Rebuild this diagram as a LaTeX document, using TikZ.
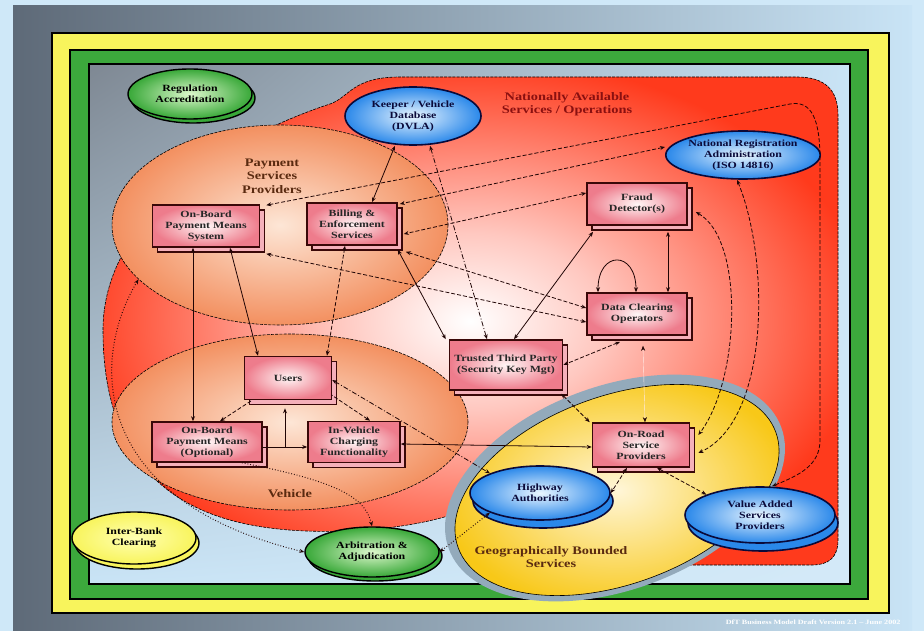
\documentclass[tikz,border=0pt]{standalone}
\usepackage{fontspec}
\setmainfont[FakeStretch=1.25]{Liberation Serif}
\usetikzlibrary{arrows.meta,shadows,shadings,shapes.geometric,positioning}

\definecolor{skyback}{HTML}{CFE8F8}
\definecolor{panelgray}{HTML}{5E6A78}
\definecolor{panellight}{HTML}{C9E4F6}
\definecolor{framegreen}{HTML}{3CA83C}
\definecolor{frameyellow}{HTML}{F8F45C}
\definecolor{blobred}{HTML}{FF3A1C}
\definecolor{blobpink}{HTML}{FFC8C0}
\definecolor{orangeout}{HTML}{F39060}
\definecolor{orangein}{HTML}{FDE6D6}
\definecolor{boxpink}{HTML}{EE7C8C}
\definecolor{boxedge}{HTML}{3A0808}
\definecolor{blueout}{HTML}{2A88EA}
\definecolor{bluein}{HTML}{EAF6FF}
\definecolor{navyedge}{HTML}{0A0A3A}
\definecolor{greenout}{HTML}{38A838}
\definecolor{greenin}{HTML}{DDF8CC}
\definecolor{geoyellow}{HTML}{F8C818}
\definecolor{geoin}{HTML}{FFF6D8}
\definecolor{ringblue}{HTML}{93AABB}
\definecolor{labelred}{HTML}{8A1010}
\definecolor{labelbrown}{HTML}{5A2A10}
\definecolor{linedark}{HTML}{200505}

\pgfdeclareradialshading{redblob}{\pgfpoint{0bp}{0bp}}{color(0bp)=(white); color(9bp)=(blobpink); color(27bp)=(blobred); color(50bp)=(blobred)}

\begin{document}
\begin{tikzpicture}[x=1pt,y=-1pt,
  font=\fontsize{9.5}{11.2}\selectfont\bfseries,
  >={Stealth[length=5pt,width=4pt]},
  box/.style={draw=boxedge, line width=1.6pt, inner color=white!85!pink, outer color=boxpink,
    align=center, inner sep=0pt, text=black!85,
    general shadow={fill=boxpink!60!white, draw=boxedge, line width=1.6pt, shadow xshift=5pt, shadow yshift=-5pt}},
  blueell/.style={ellipse, draw=navyedge, line width=1.6pt, inner color=bluein, outer color=blueout,
    align=center, inner sep=0pt, text=navyedge},
  greenell/.style={ellipse, draw=black, line width=1.4pt, inner color=greenin, outer color=greenout,
    align=center, inner sep=0pt,
    general shadow={fill=greenout, draw=black, line width=1.4pt, shadow xshift=3pt, shadow yshift=-4pt}},
  area/.style={ellipse, draw=black, line width=0.6pt, dash pattern=on 3pt off 1.2pt, inner sep=0pt},
  arealabel/.style={align=center, font=\fontsize{11.5}{13.5}\selectfont\bfseries},
  conn/.style={draw=linedark, line width=0.8pt, <->},
  dconn/.style={conn, dash pattern=on 4pt off 2pt},
  tconn/.style={conn, dotted, line width=1pt},
  dtconn/.style={conn, dash pattern=on 5pt off 2pt on 1pt off 2pt}
]
\useasboundingbox (0,0) rectangle (924,631);
% background and frames
\fill[skyback] (0,0) rectangle (924,631);
\shade[left color=panelgray, right color=panellight] (13,6) rectangle (912,631);
\draw[fill=frameyellow, line width=1.2pt] (52,33) rectangle (889,613);
\draw[fill=framegreen, line width=1.2pt] (70,50) rectangle (868,599);
\shade[draw=black, line width=1.4pt, upper left=panelgray!80!white, upper right=panellight,
  lower left=panellight, lower right=panellight!80!white] (89,64) rectangle (850,584);

% nationally available area
\path[draw=black, line width=0.6pt, dash pattern=on 3pt off 1.2pt, shading=redblob]
  (103,330) .. controls (103,220) and (220,140) .. (330,104)
  .. controls (350,97) and (352,77) .. (400,77) -- (797,77)
  .. controls (825,77) and (838,90) .. (838,115) -- (838,540)
  .. controls (838,558) and (828,565) .. (812,565) -- (560,565) -- (470,508)
  .. controls (420,530) and (330,536) .. (270,528)
  .. controls (160,514) and (103,450) .. cycle;
\node[arealabel, text=labelred] (natl) at (567,104) {Nationally Available\\Services / Operations};

% payment and vehicle areas
\node[area, inner color=orangein, outer color=orangeout, minimum width=336, minimum height=200] (psp) at (280,225) {};
\node[area, inner color=orangein, outer color=orangeout, minimum width=356, minimum height=176] (veh) at (290,422) {};
\node[arealabel, text=labelbrown] (psplab) at (272,176) {Payment\\Services\\Providers};
\node[arealabel, text=labelbrown] (vehlab) at (290,494) {Vehicle};

% geographically bounded area
\node[ellipse, fill=ringblue, rotate=20, minimum width=354, minimum height=204] (ring) at (615,488) {};
\node[ellipse, draw=black, line width=0.6pt, inner color=geoin, outer color=geoyellow, rotate=20,
  minimum width=338, minimum height=188] (geo) at (617,490) {};
\node[arealabel, text=labelbrown] (geolab) at (551,557) {Geographically Bounded\\Services};

% ellipses
\node[greenell, minimum width=124, minimum height=50] (reg) at (190,94) {Regulation\\Accreditation};
\node[blueell, minimum width=136, minimum height=58] (dvla) at (413,116) {Keeper / Vehicle\\Database\\(DVLA)};
\node[blueell, minimum width=140, minimum height=48] (nra) at (743,155) {National Registration\\Administration\\(ISO 14816)};
\node[blueell, minimum width=140, minimum height=54,
  general shadow={fill=blueout, draw=navyedge, line width=1.6pt, shadow xshift=3pt, shadow yshift=-8pt}] (hwy) at (540,493) {Highway\\Authorities};
\node[blueell, minimum width=150, minimum height=56,
  general shadow={fill=blueout, draw=navyedge, line width=1.6pt, shadow xshift=3pt, shadow yshift=-8pt}] (vas) at (760,515) {Value Added\\Services\\Providers};
\node[ellipse, draw=black, line width=1.4pt, inner color=white!70!yellow, outer color=frameyellow,
  align=center, inner sep=0pt, minimum width=124, minimum height=52,
  general shadow={fill=frameyellow, draw=black, line width=1.4pt, shadow xshift=3pt, shadow yshift=-5pt}] (ibc) at (134,538) {Inter-Bank\\Clearing};
\node[greenell, minimum width=134, minimum height=50] (arb) at (372,552) {Arbitration \&\\Adjudication};

% boxes
\node[box, minimum width=107, minimum height=42] (obpms) at (206,226) {On-Board\\Payment Means\\System};
\node[box, minimum width=90, minimum height=42] (bill) at (352,224) {Billing \&\\Enforcement\\Services};
\node[box, minimum width=100, minimum height=42] (fraud) at (637,204) {Fraud\\Detector(s)};
\node[box, minimum width=100, minimum height=42] (dco) at (637,314) {Data Clearing\\Operators};
\node[box, minimum width=113, minimum height=50] (ttp) at (506,365) {Trusted Third Party\\(Security Key Mgt)};
\node[box, minimum width=87, minimum height=43] (users) at (288,378) {Users};
\node[box, minimum width=110, minimum height=40] (obpmo) at (207,442) {On-Board\\Payment Means\\(Optional)};
\node[box, minimum width=92, minimum height=41] (ivcf) at (354,442) {In-Vehicle\\Charging\\Functionality};
\node[box, minimum width=97, minimum height=44] (orsp) at (641,445) {On-Road\\Service\\Providers};

% connectors
\draw[conn] ([xshift=-13pt]obpms.south) -- ([xshift=-14pt]obpmo.north);
\draw[conn] ([xshift=24pt]obpms.south) -- ([xshift=-30pt]users.north);
\draw[dconn] ([xshift=-7pt]bill.south) -- ([xshift=39pt]users.north);
\draw[conn] ([xshift=20pt]bill.north) -- ([xshift=-18pt]dvla.south);
\draw[dtconn] ([xshift=17pt]dvla.south) -- ([xshift=-19pt]ttp.north);
\draw[conn] ([yshift=-4pt]bill.south east) -- ([xshift=-3pt]ttp.north west);
\draw[conn] ([xshift=-44pt, yshift=-6pt]fraud.south) -- ([xshift=8pt]ttp.north);
\draw[dconn] ([yshift=11pt]fraud.west) -- ([xshift=6pt, yshift=-10pt]bill.east);
\draw[dconn] ([yshift=8pt]nra.west) -- ([xshift=2pt, yshift=20pt]bill.east);
\draw[conn] ([xshift=31pt, yshift=-6pt]fraud.south) -- ([xshift=31pt]dco.north);
\draw[conn] ([xshift=-39pt]dco.north) .. controls +(0,-42) and +(0,-42) .. ([xshift=-1pt]dco.north);
\draw[dconn] ([xshift=6pt, yshift=-6pt]obpms.south east) -- ([yshift=-8pt]dco.west);
\draw[dconn] ([xshift=8pt, yshift=-6pt]bill.south east) -- ([yshift=6pt]dco.west);
\draw[dconn] ([xshift=-17pt, yshift=-6pt]dco.south) -- (ttp.east);
\draw[dconn] ([xshift=-2pt, yshift=-3pt]ttp.south east) -- ([xshift=-2pt]orsp.north west);
\draw[<->, draw=blobpink!40!white, line width=0.4pt, >={Stealth[length=5pt,width=4pt,color=linedark]}]
  ([xshift=6pt, yshift=-10pt]dco.south) -- ([xshift=4pt]orsp.north);
\draw[conn] ([yshift=-2pt]ivcf.east) -- ([yshift=-2pt]orsp.west);
\draw[conn, ->] ([yshift=-5pt]obpmo.east) -- ([yshift=-5pt]ivcf.west);
\draw[conn, ->] (285,447) -- ([xshift=-3pt, yshift=-8pt]users.south);
\draw[dconn, <-] ([xshift=13pt]obpmo.north) -- ([xshift=-36pt]users.south);
\draw[dconn, <-] ([xshift=16pt]ivcf.north) -- ([xshift=44pt, yshift=5pt]users.south);
\draw[dtconn] ([yshift=-2pt]users.east) -- (hwy.north west);
\draw[tconn, ->] ([xshift=35pt]obpmo.south) .. controls (330,480) and (365,495) .. (arb.north);
\draw[tconn] (psp.201) .. controls (90,360) and (90,500) .. (arb.west);
\draw[tconn] (arb.east) -- (hwy.south west);
\draw[dconn] ([xshift=-14pt]orsp.south) -- (hwy.east);
\draw[dconn] ([xshift=16pt]orsp.south) -- (vas.north west);
% long dashed links
\draw[dconn] ([xshift=6pt, yshift=-1pt]obpms.north east) -- (790,104) .. controls (812,100) and (820,120) .. (820,160)
  -- (820,440) .. controls (820,465) and (800,475) .. ([xshift=12pt]vas.north);
\draw[dconn] ([xshift=8pt, yshift=-8pt]fraud.east) .. controls (745,240) and (740,380) .. ([xshift=8pt, yshift=10pt]orsp.east);
\draw[dconn] ([xshift=-6pt]nra.south) .. controls (770,260) and (770,420) .. ([xshift=8pt, yshift=-8pt]orsp.east);

% footer
\node[text=white, font=\fontsize{6.5}{7}\selectfont\bfseries, anchor=east] (foot) at (904,622) {DfT Business Model Draft Version 2.1 -- June 2002};
\end{tikzpicture}
\end{document}
